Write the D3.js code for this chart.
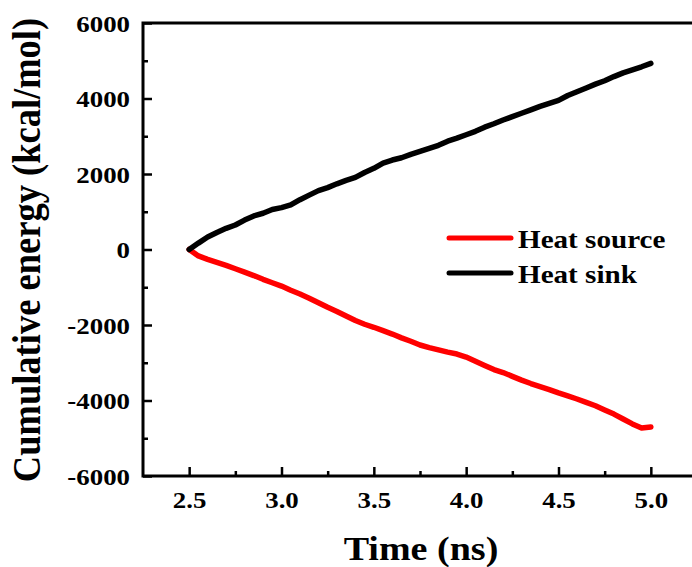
<!DOCTYPE html>
<html>
<head>
<meta charset="utf-8">
<script src="https://cdn.jsdelivr.net/npm/d3@7"></script>
<style>
  html, body { margin: 0; padding: 0; background: #fff; }
  svg { display: block; font-family: "Liberation Serif", "Times New Roman", serif; font-weight: bold; }
</style>
</head>
<body>
<svg id="chart" width="692" height="567"></svg>
<script>
// Tid (ns) och kumulativ energi (kcal/mol)
const timeNs = [
  2.50, 2.55, 2.60, 2.65, 2.70, 2.75, 2.80, 2.85, 2.90, 2.95,
  3.00, 3.05, 3.10, 3.15, 3.20, 3.25, 3.30, 3.35, 3.40, 3.45,
  3.50, 3.55, 3.60, 3.65, 3.70, 3.75, 3.80, 3.85, 3.90, 3.95,
  4.00, 4.05, 4.10, 4.15, 4.20, 4.25, 4.30, 4.35, 4.40, 4.45,
  4.50, 4.55, 4.60, 4.65, 4.70, 4.75, 4.80, 4.85, 4.90, 4.95, 5.00
];
const heatSource = [
  0, -170, -260, -340, -420, -510, -600, -690, -790, -880,
  -970, -1080, -1180, -1290, -1410, -1530, -1640, -1760, -1880, -1980,
  -2060, -2150, -2240, -2340, -2430, -2530, -2600, -2660, -2720, -2770,
  -2850, -2960, -3070, -3180, -3260, -3360, -3460, -3550, -3630, -3710,
  -3800, -3880, -3960, -4050, -4140, -4250, -4360, -4490, -4620, -4730, -4700
];
const heatSink = [
  0, 170, 330, 450, 560, 650, 780, 890, 960, 1060,
  1110, 1180, 1320, 1440, 1560, 1640, 1740, 1830, 1910, 2040,
  2150, 2290, 2370, 2430, 2520, 2600, 2680, 2760, 2870, 2950,
  3040, 3130, 3240, 3330, 3430, 3520, 3610, 3700, 3790, 3870,
  3950, 4080, 4180, 4280, 4380, 4470, 4580, 4680, 4760, 4840, 4930
];
const seriesNames = ["Heat source", "Heat sink"];
const seriesColors = ["#ff0000", "#000000"];
const xMajorTicks = [2.5, 3.0, 3.5, 4.0, 4.5, 5.0];
const xMinorTicks = [2.75, 3.25, 3.75, 4.25, 4.75];
const yMajorTicks = [-6000, -4000, -2000, 0, 2000, 4000, 6000];
const yMinorTicks = [-5000, -3000, -1000, 1000, 3000, 5000];

const margin = { left: 143, top: 23, right: 697, bottom: 476 };
// Originalbilden är något utdragen i x-led, så texten sträcks lika mycket
const SX = 1.12;

const svg = d3.select("#chart");

const x = d3.scaleLinear().domain([2.25, 5.25]).range([margin.left, margin.right]);
const y = d3.scaleLinear().domain([-6000, 6000]).range([margin.bottom, margin.top]);

// Axlar med inåtriktade streck
const gx = svg.append("g").attr("transform", `translate(0,${margin.bottom})`)
  .call(d3.axisBottom(x).tickValues(xMajorTicks).tickFormat(d3.format(".1f"))
    .tickSizeInner(-9).tickSizeOuter(0));
svg.append("g").attr("transform", `translate(0,${margin.bottom})`)
  .call(d3.axisBottom(x).tickValues(xMinorTicks).tickFormat("")
    .tickSizeInner(-5).tickSizeOuter(0));

const gy = svg.append("g").attr("transform", `translate(${margin.left},0)`)
  .call(d3.axisLeft(y).tickValues(yMajorTicks).tickFormat(d => String(d))
    .tickSizeInner(-9).tickSizeOuter(0));
svg.append("g").attr("transform", `translate(${margin.left},0)`)
  .call(d3.axisLeft(y).tickValues(yMinorTicks).tickFormat("")
    .tickSizeInner(-5).tickSizeOuter(0));

svg.selectAll(".domain").remove();
svg.selectAll(".tick line").attr("stroke", "#000").attr("stroke-width", 2.5);
svg.selectAll(".tick text")
  .attr("fill", "#000")
  .style("font-size", "24px")
  .style("font-family", "'Liberation Serif', serif")
  .style("font-weight", "bold");

gx.selectAll(".tick text")
  .attr("y", 32).attr("dy", 0)
  .attr("transform", `scale(${SX},1)`);
gy.selectAll(".tick text")
  .attr("x", -13 / SX).attr("dy", "0.34em")
  .attr("transform", `scale(${SX},1)`);

// Ram
svg.append("rect")
  .attr("x", margin.left).attr("y", margin.top)
  .attr("width", margin.right - margin.left)
  .attr("height", margin.bottom - margin.top)
  .attr("fill", "none").attr("stroke", "#000").attr("stroke-width", 3);

// Kurvor
const line = d3.line().x(d => x(d[0])).y(d => y(d[1]));
[heatSource, heatSink].forEach((vals, i) => {
  svg.append("path")
    .datum(timeNs.map((t, j) => [t, vals[j]]))
    .attr("d", line)
    .attr("fill", "none")
    .attr("stroke", seriesColors[i])
    .attr("stroke-width", 5.5)
    .attr("stroke-linejoin", "round")
    .attr("stroke-linecap", "round");
});

// Förklaring
seriesNames.forEach((name, i) => {
  const ly = 238 + i * 35;
  svg.append("line")
    .attr("x1", 449).attr("x2", 511).attr("y1", ly).attr("y2", ly)
    .attr("stroke", seriesColors[i]).attr("stroke-width", 5)
    .attr("stroke-linecap", "round");
  svg.append("text")
    .attr("transform", `translate(518,${ly + 9.5}) scale(${SX},1)`)
    .style("font-size", "26px")
    .text(name);
});

// Axeltitlar
svg.append("text")
  .attr("transform", `translate(421,560) scale(${SX},1)`)
  .attr("text-anchor", "middle")
  .style("font-size", "34px")
  .text("Time (ns)");

svg.append("text")
  .attr("transform", `translate(40,250) scale(${SX},1) rotate(-90)`)
  .attr("text-anchor", "middle")
  .style("font-size", "36.5px")
  .text("Cumulative energy (kcal/mol)");
</script>
</body>
</html>
